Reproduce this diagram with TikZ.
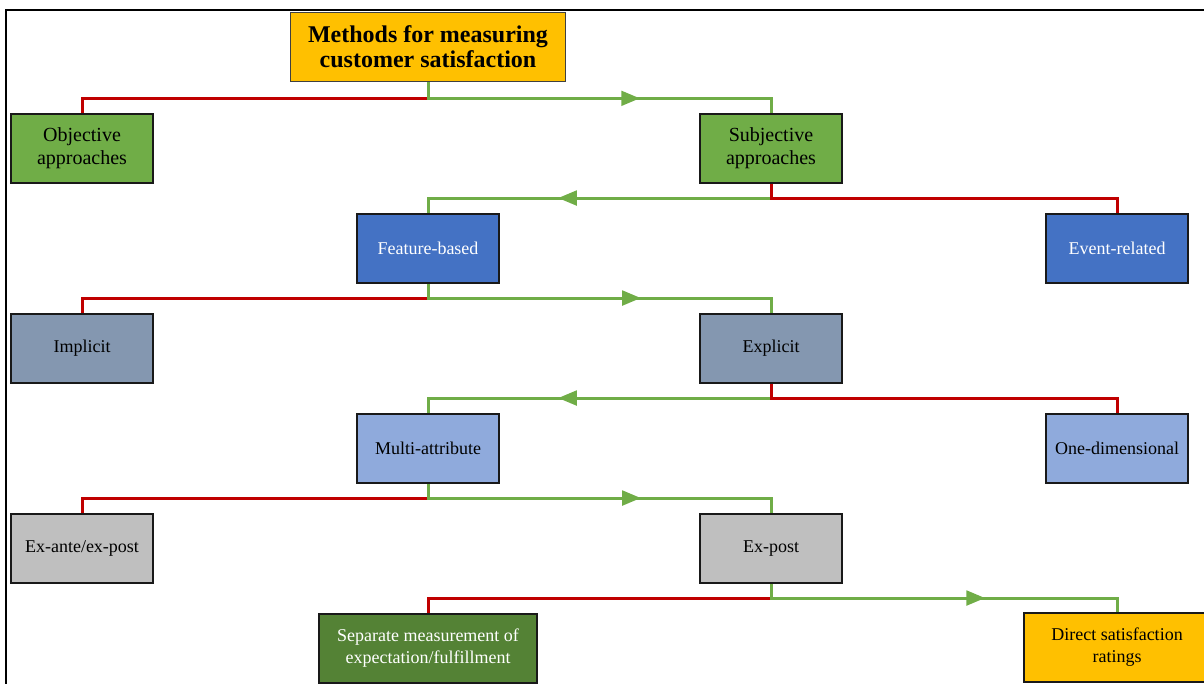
\documentclass[tikz,border=0pt]{standalone}
\usepackage{fontspec}
\setmainfont{Liberation Serif}
\usetikzlibrary{arrows.meta, decorations.markings}

\definecolor{titleyellow}{HTML}{FFC000}
\definecolor{boxgreen}{HTML}{70AD47}
\definecolor{boxblue}{HTML}{4472C4}
\definecolor{boxslate}{HTML}{8497B0}
\definecolor{boxlight}{HTML}{8FAADC}
\definecolor{boxgray}{HTML}{BFBFBF}
\definecolor{boxdark}{HTML}{548235}
\definecolor{linered}{HTML}{C00000}
\definecolor{linegreen}{HTML}{70AD47}

\tikzset{
    box/.style={draw=black!90, line width=1.3pt, minimum width=106pt, minimum height=52pt,
        align=center, inner sep=2pt, font=\fontsize{13.5}{16.5}\selectfont},
    bigbox/.style={box, font=\fontsize{15}{17.25}\selectfont},
    noline/.style={draw=linered, line width=2.25pt},
    yesline/.style={draw=linegreen, line width=2.25pt, postaction={decorate},
        decoration={markings, mark=at position 0.61 with {\arrow[linegreen]{Triangle[length=14pt,width=11pt]}}}}
}

\begin{document}
\begin{tikzpicture}[x=0.75pt, y=-0.75pt]
    \clip (0,0) rectangle (1204,684);
    \useasboundingbox (0,0) rectangle (1204,684);

    % Frame
    \draw[line width=1.6pt] (6,684) -- (6,10) -- (1204,10);

    % Title
    \node[draw=black!75, line width=1pt, fill=titleyellow, minimum width=206pt, minimum height=52pt,
        align=center, font=\fontsize{18}{18.75}\selectfont\bfseries] (title) at (428,47)
        {Methods for measuring\\customer satisfaction};

    % Approaches
    \node[bigbox, fill=boxgreen] (obj) at (82,148.5) {Objective\\approaches};
    \node[bigbox, fill=boxgreen] (subj) at (771,148.5) {Subjective\\approaches};

    % Feature-based / event-related
    \node[box, fill=boxblue, text=white] (feat) at (428,248.5) {Feature-based};
    \node[box, fill=boxblue, text=white] (event) at (1117,248.5) {Event-related};

    % Implicit / explicit
    \node[box, fill=boxslate] (impl) at (82,348.5) {Implicit};
    \node[box, fill=boxslate] (expl) at (771,348.5) {Explicit};

    % Multi-attribute / one-dimensional
    \node[box, fill=boxlight] (multi) at (428,448.5) {Multi-attribute};
    \node[box, fill=boxlight] (onedim) at (1117,448.5) {One-dimensional};

    % Ex-ante / ex-post
    \node[box, fill=boxgray] (exante) at (82,548.5) {Ex-ante/ex-post};
    \node[box, fill=boxgray] (expost) at (771,548.5) {Ex-post};

    % Measurement
    \node[box, fill=boxdark, text=white, minimum width=163pt] (sep) at (428,648.5)
        {Separate measurement of\\expectation/fulfillment};
    \node[box, fill=titleyellow, minimum width=140pt] (direct) at (1117,647.5)
        {Direct satisfaction\\ratings};

    % Connectors
    \draw[noline] (title.south) -- ++(0,16) -| (obj.north);
    \draw[yesline] (title.south) -- ++(0,16) -| (subj.north);

    \draw[yesline] (subj.south) -- ++(0,14) -| (feat.north);
    \draw[noline] (subj.south) -- ++(0,14) -| (event.north);

    \draw[noline] (feat.south) -- ++(0,14) -| (impl.north);
    \draw[yesline] (feat.south) -- ++(0,14) -| (expl.north);

    \draw[yesline] (expl.south) -- ++(0,14) -| (multi.north);
    \draw[noline] (expl.south) -- ++(0,14) -| (onedim.north);

    \draw[noline] (multi.south) -- ++(0,14) -| (exante.north);
    \draw[yesline] (multi.south) -- ++(0,14) -| (expost.north);

    \draw[noline] (expost.south) -- ++(0,14) -| (sep.north);
    \draw[yesline] (expost.south) -- ++(0,14) -| (direct.north);
\end{tikzpicture}
\end{document}
